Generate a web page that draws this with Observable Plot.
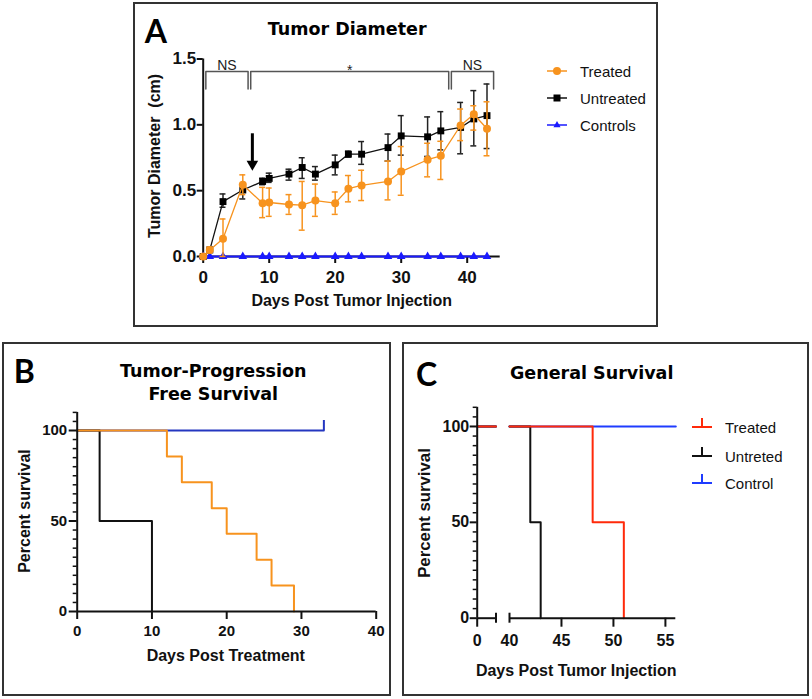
<!DOCTYPE html>
<html><head><meta charset="utf-8">
<script src="https://cdn.jsdelivr.net/npm/d3@7"></script>
<script src="https://cdn.jsdelivr.net/npm/@observablehq/plot@0.6"></script>
<style>
html,body{margin:0;padding:0;background:#fff;}
#root{position:relative;width:812px;height:699px;overflow:hidden;background:#fff;}
.box{position:absolute;border:2px solid #333;box-sizing:border-box;}
.lbl{position:absolute;white-space:pre;line-height:1;color:#111;}
.layer{position:absolute;left:0;top:0;width:812px;height:699px;}
.layer svg{position:absolute;left:0;top:0;}
</style></head><body><div id="root"></div>
<script>
// ---------------- Panel A: Tumor Diameter ----------------
const daysA = [0,1,3,6,9,10,13,15,17,20,22,24,28,30,34,36,39,41,43];
const treatedMean = [0,0.05,0.135,0.545,0.405,0.41,0.395,0.39,0.425,0.405,0.515,0.54,0.57,0.645,0.735,0.765,0.995,1.08,0.97];
const treatedHi   = [0,0.07,0.285,0.62,0.525,0.52,0.47,0.57,0.55,0.49,0.615,0.655,0.725,0.835,0.86,0.875,1.12,1.145,1.175];
const treatedLo   = [0,0.03,0.0,0.47,0.295,0.305,0.32,0.2,0.305,0.32,0.415,0.425,0.43,0.465,0.605,0.585,0.88,0.96,0.765];
const untreatedMean = [0,0.05,0.417,0.505,0.57,0.593,0.626,0.676,0.626,0.696,0.777,0.777,0.827,0.916,0.909,0.954,0.98,1.045,1.07];
const untreatedHi   = [0,0.06,0.475,0.543,0.595,0.633,0.663,0.75,0.683,0.77,0.8,0.873,0.93,1.07,1.06,1.10,1.17,1.26,1.31];
const untreatedLo   = [0,0.04,0.374,0.437,0.545,0.563,0.58,0.593,0.58,0.62,0.755,0.70,0.725,0.77,0.76,0.81,0.78,0.84,0.82];
const controlsMean  = [0,0,0,0,0,0,0,0,0,0,0,0,0,0,0,0,0,0,0];
const xTicksA = [0,10,20,30,40];
const yTicksA = [0,0.5,1.0,1.5];
const legendA = ["Treated","Untreated","Controls"];
const bracketStart = [0.4, 7.2, 37.6];
const bracketEnd   = [6.8, 37.2, 44.0];
const bracketText  = ["NS","*","NS"];
const bracketTextY = [1.448, 1.415, 1.448];
const bracketTop = 1.405, bracketLeg = 1.273;
const arrowDay = 7.45, arrowFrom = 0.932, arrowTo = 0.653;

// ---------------- Panel B: Tumor-Progression Free Survival ----------------
const daysBTreated = [0,12,14,18,20,24,26,29];
const survBTreated = [100,85.7,71.4,57.1,42.9,28.6,14.3,0];
const daysBUntreated = [0,3,10];
const survBUntreated = [100,50,0];
const daysBControl = [0,33];
const survBControl = [100,100];
const censorBControl = [33];
const xTicksB = [0,10,20,30,40];
const yTicksSurv = [0,50,100];
const yMinorSurv = [5,10,15,20,25,30,35,40,45,55,60,65,70,75,80,85,90,95,105,110];

// ---------------- Panel C: General Survival ----------------
const daysCTreated = [0,48,51];
const survCTreated = [100,50,0];
const daysCUntreated = [0,42,43];
const survCUntreated = [100,50,0];
const daysCControl = [0,56];
const survCControl = [100,100];
const xTicksCLeft = [0];
const xTicksCRight = [45,50,55];
const xDomainCLeft = [0,2];
const xDomainCRight = [40,56];
const legendC = ["Treated","Untreted","Control"];

// ---------------- colours ----------------
const ORANGE = "#f7931e", BLACK = "#111111", BLUE_A = "#1a1aff";
const BLUE_B = "#2436c0", RED_C = "#ff2a0a", BLUE_C = "#1f3cff";

const W = 812, H = 699;
const root = document.getElementById("root");
const st = {background:"transparent", fontFamily:"'Liberation Sans', Arial, sans-serif", color:"#111", overflow:"visible"};

function layer(svg){ const d=document.createElement("div"); d.className="layer"; d.appendChild(svg); root.appendChild(d); }
function box(l,t,w,h){ const d=document.createElement("div"); d.className="box"; Object.assign(d.style,{left:l+"px",top:t+"px",width:w+"px",height:h+"px"}); root.appendChild(d); }
function label(text,x,y,css,rot){
  const d=document.createElement("div"); d.className="lbl"; d.textContent=text;
  Object.assign(d.style,{left:x+"px",top:y+"px"},css||{});
  d.style.transform="translate(-50%,-50%)"+(rot?" rotate(-90deg)":"");
  root.appendChild(d);
}
function leftLabel(text,x,y,css){
  const d=document.createElement("div"); d.className="lbl"; d.textContent=text;
  Object.assign(d.style,{left:x+"px",top:y+"px"},css||{});
  d.style.transform="translate(0,-50%)";
  root.appendChild(d);
}
function swatch(x,y,inner){
  const d=document.createElement("div");
  d.innerHTML=`<svg width="24" height="20" viewBox="-2 -10 24 20" style="position:absolute;left:${x-2}px;top:${y-10}px;overflow:visible">${inner}</svg>`;
  root.appendChild(d.firstChild);
}

box(133.3,1.7,524.4,325.3);
box(2.3,341.7,388.7,354.3);
box(402.3,341.7,407,354.3);

// ---------------- Plot A ----------------
const rowsA = (m,lo,hi)=>daysA.map((d,i)=>({day:d,mean:m[i],lo:lo[i],hi:hi[i]}));
const tr = rowsA(treatedMean,treatedLo,treatedHi);
const un = rowsA(untreatedMean,untreatedLo,untreatedHi);
const ct = daysA.map((d,i)=>({day:d,mean:controlsMean[i]}));
const brPts = [];
bracketStart.forEach((s,i)=>{
  const e=bracketEnd[i];
  [[s,bracketLeg],[s,bracketTop],[e,bracketTop],[e,bracketLeg]].forEach(([x,y])=>brPts.push({id:i,x,y}));
});
const brLab = bracketText.map((t,i)=>({t,x:(bracketStart[i]+bracketEnd[i])/2,y:bracketTextY[i]}));
const capW = 0.45;
function errMarks(data,color){
  return [
    Plot.ruleX(data,{x:"day",y1:"lo",y2:"hi",stroke:color,strokeWidth:1.5}),
    Plot.ruleY(data,{y:"hi",x1:d=>d.day-capW,x2:d=>d.day+capW,stroke:color,strokeWidth:1.5}),
    Plot.ruleY(data,{y:"lo",x1:d=>d.day-capW,x2:d=>d.day+capW,stroke:color,strokeWidth:1.5})
  ];
}
const plotA = Plot.plot({
  width:W,height:H,
  marginLeft:202.7,marginRight:W-499.7,marginTop:58.5,marginBottom:H-256,
  x:{domain:[0,45],label:null}, y:{domain:[0,1.5],label:null},
  style:st,
  marks:[
    Plot.ruleX([0],{stroke:BLACK,strokeWidth:2}),
    Plot.ruleY([0],{stroke:BLACK,strokeWidth:2}),
    Plot.axisX({ticks:xTicksA,tickSize:7,tickPadding:7,fontSize:17,fontWeight:"bold",strokeWidth:2,label:null,tickFormat:d=>String(d)}),
    Plot.axisY({ticks:yTicksA,tickSize:6,tickPadding:1,fontSize:17,fontWeight:"bold",strokeWidth:2,label:null,tickFormat:d3.format(".1f")}),
    Plot.line(brPts,{x:"x",y:"y",z:"id",stroke:"#555",strokeWidth:1.5}),
    Plot.text(brLab,{x:"x",y:"y",text:"t",fontSize:14,fill:"#222"}),
    Plot.ruleX([arrowDay],{x:d=>d,y1:arrowFrom,y2:arrowTo,insetBottom:8,stroke:"#000",strokeWidth:3}),
    Plot.dot([arrowDay],{x:d=>d,y:arrowTo,symbol:"triangle",rotate:180,r:4.3,fill:"#000",dy:-6.5}),
    Plot.line(ct,{x:"day",y:"mean",stroke:BLUE_A,strokeWidth:2}),
    Plot.dot(ct,{x:"day",y:"mean",symbol:"triangle",r:3.2,fill:BLUE_A}),
    ...errMarks(un,"#222"),
    Plot.line(un,{x:"day",y:"mean",stroke:BLACK,strokeWidth:1.3}),
    Plot.dot(un,{x:"day",y:"mean",symbol:"square",r:3.9,fill:"#000"}),
    ...errMarks(tr,ORANGE),
    Plot.line(tr,{x:"day",y:"mean",stroke:ORANGE,strokeWidth:1.3}),
    Plot.dot(tr,{x:"day",y:"mean",symbol:"circle",r:4,fill:ORANGE})
  ]
});
layer(plotA);

// ---------------- Plot B ----------------
const km = (days,surv)=>days.map((t,i)=>({t,s:surv[i]}));
const plotB = Plot.plot({
  width:W,height:H,
  marginLeft:76.7,marginRight:W-375.7,marginTop:411.9,marginBottom:H-611,
  x:{domain:[0,40],label:null}, y:{domain:[0,110],label:null},
  style:st,
  marks:[
    Plot.line(km(daysBControl,survBControl),{x:"t",y:"s",curve:"step-after",stroke:BLUE_B,strokeWidth:2}),
    Plot.ruleX(censorBControl,{x:d=>d,y1:100,y2:100,insetTop:-10,stroke:BLUE_B,strokeWidth:2}),
    Plot.line(km(daysBUntreated,survBUntreated),{x:"t",y:"s",curve:"step-after",stroke:BLACK,strokeWidth:2}),
    Plot.line(km(daysBTreated,survBTreated),{x:"t",y:"s",curve:"step-after",stroke:ORANGE,strokeWidth:2}),
    Plot.ruleX([0],{stroke:BLACK,strokeWidth:2}),
    Plot.ruleY([0],{stroke:BLACK,strokeWidth:2}),
    Plot.axisX({ticks:xTicksB,tickSize:8,tickPadding:6,fontSize:15,fontWeight:"bold",strokeWidth:2,label:null,tickFormat:d=>String(d)}),
    Plot.axisY({ticks:yTicksSurv,tickSize:8,tickPadding:2,fontSize:15,fontWeight:"bold",strokeWidth:2,label:null,tickFormat:d=>String(d)}),
    Plot.axisY({ticks:yMinorSurv,tickSize:4,strokeWidth:1.5,fill:"none",label:null})
  ]
});
layer(plotB);

// ---------------- Plot C (broken x axis: two segments) ----------------
function segmentSeries(days,surv,dom){
  const [a,b]=dom;
  const valAt=t=>{let v=surv[0];days.forEach((d,i)=>{if(d<=t)v=surv[i];});return v;};
  const pts=[{t:a,s:valAt(a)}];
  days.forEach((d,i)=>{ if(d>a && d<b) pts.push({t:d,s:surv[i]}); });
  const last=days[days.length-1];
  const end=Math.min(b,last>a?last:b);
  pts.push({t:end,s:valAt(end)});
  return pts;
}
const cSeries=[
  {days:daysCControl,surv:survCControl,color:BLUE_C},
  {days:daysCUntreated,surv:survCUntreated,color:BLACK},
  {days:daysCTreated,surv:survCTreated,color:RED_C}
];
const cBase = {width:W,height:H,marginTop:406.8,marginBottom:H-617.7,style:st};
const plotCLeft = Plot.plot({
  ...cBase,
  marginLeft:476.7,marginRight:W-495.5,
  x:{domain:xDomainCLeft,label:null},
  y:{domain:[0,110],label:null},
  marks:[
    ...cSeries.map(s=>Plot.line(segmentSeries(s.days,s.surv,xDomainCLeft),{x:"t",y:"s",curve:"step-after",stroke:s.color,strokeWidth:2})),
    Plot.ruleX([0],{stroke:BLACK,strokeWidth:2}),
    Plot.ruleY([0],{stroke:BLACK,strokeWidth:2}),
    Plot.ruleX([xDomainCLeft[1]],{x:d=>d,y1:0,y2:0,insetTop:-5,insetBottom:-5,stroke:BLACK,strokeWidth:2}),
    Plot.axisX({ticks:xTicksCLeft,tickSize:9,tickPadding:7,fontSize:16,fontWeight:"bold",strokeWidth:2,label:null,tickFormat:d=>String(d)}),
    Plot.axisY({ticks:yTicksSurv,tickSize:7,tickPadding:1,fontSize:16,fontWeight:"bold",strokeWidth:2,label:null,tickFormat:d=>String(d)}),
    Plot.axisY({ticks:yMinorSurv,tickSize:4,strokeWidth:1.5,fill:"none",label:null})
  ]
});
layer(plotCLeft);
const plotCRight = Plot.plot({
  ...cBase,
  marginLeft:509,marginRight:W-675.3,
  x:{domain:xDomainCRight,label:null},
  y:{domain:[0,110],label:null,axis:null},
  marks:[
    ...cSeries.map(s=>Plot.line(segmentSeries(s.days,s.surv,xDomainCRight),{x:"t",y:"s",curve:"step-after",stroke:s.color,strokeWidth:2})),
    Plot.ruleY([0],{stroke:BLACK,strokeWidth:2}),
    Plot.ruleX([xDomainCRight[0]],{x:d=>d,y1:0,y2:0,insetTop:-5,insetBottom:-5,stroke:BLACK,strokeWidth:2}),
    Plot.axisX({ticks:xTicksCRight,tickSize:9,tickPadding:7,fontSize:16,fontWeight:"bold",strokeWidth:2,label:null,tickFormat:d=>String(d)}),
    Plot.axisX({ticks:[xDomainCRight[0]],tickSize:0,tickPadding:16,fontSize:16,fontWeight:"bold",label:null,tickFormat:d=>String(d)})
  ]
});
layer(plotCRight);

// ---------------- texts ----------------
const titleCss = {fontFamily:"'DejaVu Sans', sans-serif",fontWeight:"bold",fontSize:"17.5px",color:"#000"};
const letterCss = {fontFamily:"Lato, 'Liberation Sans', sans-serif",fontWeight:"bold",fontSize:"32px",color:"#000"};
const axCss = {fontFamily:"'Liberation Sans', Arial, sans-serif",fontWeight:"bold",fontSize:"16px",color:"#111"};
const legCss = {fontFamily:"'Liberation Sans', Arial, sans-serif",fontSize:"15px",color:"#111"};

label("A",155.8,31,letterCss);
label("Tumor Diameter",347.2,29.7,titleCss);
label("Tumor Diameter  (cm)",155,155.8,axCss,true);
label("Days Post Tumor Injection",351.7,301,axCss);

label("B",24.2,370.8,letterCss);
label("Tumor-Progression",213.3,372.2,titleCss);
label("Free Survival",213.3,395,titleCss);
label("Percent survival",25,510.8,axCss,true);
label("Days Post Treatment",225.8,656,axCss);

label("C",426.7,373.5,letterCss);
label("General Survival",591.7,374,titleCss);
label("Percent survival",425,512.5,Object.assign({},axCss,{fontSize:"16.8px"}),true);
label("Days Post Tumor Injection",576.2,670.5,axCss);

// legend A
const legAY=[71.2,97.8,124.8];
swatch(546.7,legAY[0],`<line x1="0" y1="0" x2="20" y2="0" stroke="${ORANGE}" stroke-width="1.5"/><circle cx="10" cy="0" r="4" fill="${ORANGE}"/>`);
swatch(546.7,legAY[1],`<line x1="0" y1="0" x2="20" y2="0" stroke="${BLACK}" stroke-width="1.5"/><rect x="6.5" y="-3.5" width="7" height="7" fill="#000"/>`);
swatch(546.7,legAY[2],`<line x1="0" y1="0" x2="20" y2="0" stroke="${BLUE_A}" stroke-width="1.5"/><path d="M10,-4 L13.6,2.2 L6.4,2.2 Z" fill="${BLUE_A}"/>`);
legendA.forEach((t,i)=>leftLabel(t,580,legAY[i],legCss));

// legend C
const legCY=[426.7,455.5,483.3];
const legCColors=[RED_C,BLACK,BLUE_C];
legCColors.forEach((c,i)=>swatch(691.7,legCY[i],`<line x1="0" y1="0" x2="20" y2="0" stroke="${c}" stroke-width="2"/><line x1="10" y1="0" x2="10" y2="-9" stroke="${c}" stroke-width="2"/>`));
legendC.forEach((t,i)=>leftLabel(t,725,legCY[i],legCss));
</script></body></html>
